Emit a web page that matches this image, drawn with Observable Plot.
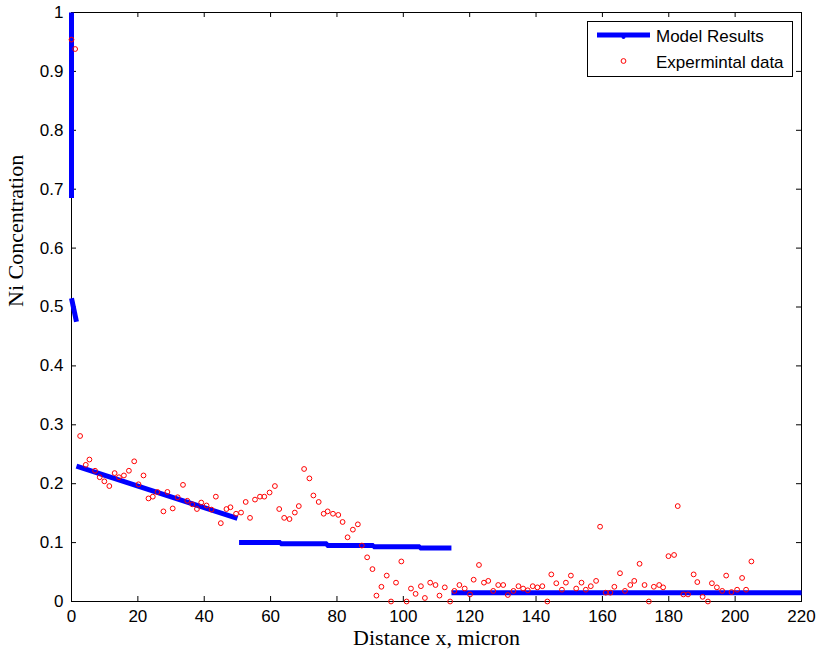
<!DOCTYPE html>
<html>
<head>
<meta charset="utf-8">
<script src="https://cdn.jsdelivr.net/npm/d3@7"></script>
<script src="https://cdn.jsdelivr.net/npm/@observablehq/plot@0.6"></script>
<style>
  html, body { margin: 0; padding: 0; background: #fff; }
  #chart svg { display: block; }
</style>
</head>
<body>
<div id="chart"></div>
<script>
// ---- data ----
const xTicks = [0, 20, 40, 60, 80, 100, 120, 140, 160, 180, 200, 220];
const yTicks = [0, 0.1, 0.2, 0.3, 0.4, 0.5, 0.6, 0.7, 0.8, 0.9, 1];
const yTickLabels = ["0", "0.1", "0.2", "0.3", "0.4", "0.5", "0.6", "0.7", "0.8", "0.9", "1"];

const xLabel = "Distance x, micron";
const yLabel = "Ni Concentration";
const seriesNames = ["Model Results", "Expermintal data"];

// Model results: piecewise segments
const modelSeg = ["A","A","B","B","C","C","D","D","D","D","D","D","D","D","D","D","E","E"];
const modelX = [0, 0, 0, 1.5, 1.5, 50, 50.5, 63, 63, 77, 77, 91, 91, 105, 105, 114.5, 114.5, 220];
const modelY = [1, 0.685, 0.515, 0.475, 0.230, 0.141, 0.100, 0.100, 0.098, 0.098, 0.095, 0.095, 0.093, 0.093, 0.091, 0.091, 0.015, 0.015];

// Experimental data
const expX = [0.0,1.1,2.6,4.3,5.4,7.1,8.5,9.9,11.4,13.0,14.3,15.8,17.3,18.9,20.2,21.7,23.2,24.5,25.9,27.7,28.9,30.5,32.0,33.6,34.9,36.4,37.8,39.1,40.7,42.2,43.5,45.0,46.7,47.9,49.6,51.1,52.5,53.8,55.3,56.8,58.1,59.7,61.3,62.6,64.1,65.7,67.3,68.5,70.1,71.7,72.9,74.5,76.0,77.2,78.8,80.4,81.7,83.2,84.8,86.3,87.5,89.1,90.7,91.9,93.4,95.0,96.3,97.8,99.4,101.0,102.3,103.7,105.3,106.5,108.1,109.7,110.9,112.5,114.1,115.4,116.9,118.5,120.1,121.2,122.8,124.3,125.6,127.1,128.6,130.1,131.5,133.2,134.7,136.1,137.5,139.0,140.4,141.9,143.4,144.6,146.1,147.8,149.0,150.5,152.1,153.7,155.0,156.5,158.1,159.3,161.0,162.4,163.6,165.3,166.8,168.4,169.6,171.2,172.7,174.0,175.5,177.1,178.3,179.9,181.6,182.7,184.4,185.8,187.5,188.6,190.2,191.8,193.0,194.5,196.1,197.3,198.9,200.6,202.1,203.3,204.9];
const expY = [0.954,0.938,0.281,0.232,0.241,0.222,0.211,0.204,0.196,0.218,0.211,0.214,0.222,0.238,0.199,0.214,0.175,0.178,0.186,0.153,0.186,0.158,0.177,0.198,0.171,0.165,0.157,0.168,0.163,0.156,0.178,0.133,0.157,0.160,0.149,0.151,0.169,0.142,0.173,0.178,0.178,0.185,0.196,0.157,0.142,0.140,0.151,0.162,0.225,0.209,0.180,0.169,0.149,0.153,0.149,0.147,0.135,0.109,0.122,0.131,0.095,0.075,0.055,0.010,0.025,0.044,0.000,0.032,0.068,0.000,0.022,0.013,0.026,0.006,0.032,0.028,0.010,0.024,0.000,0.018,0.028,0.022,0.012,0.037,0.062,0.032,0.035,0.018,0.028,0.028,0.011,0.018,0.026,0.022,0.019,0.026,0.024,0.026,0.000,0.046,0.031,0.020,0.032,0.044,0.022,0.032,0.020,0.026,0.035,0.127,0.015,0.015,0.025,0.048,0.018,0.028,0.035,0.064,0.028,0.000,0.025,0.028,0.024,0.077,0.079,0.162,0.012,0.012,0.046,0.033,0.008,0.000,0.031,0.024,0.018,0.044,0.016,0.020,0.040,0.020,0.068];

// ---- build tables ----
const model = modelX.map((x, i) => ({x, y: modelY[i], seg: modelSeg[i]}));
const exp = expX.map((x, i) => ({x, y: expY[i]}));

const W = 817, H = 658;
const mL = 71, mR = 16, mT = 12, mB = 57;
const tickLen = 5;
const xPerPx = 220 / (W - mL - mR);
const yPerPx = 1 / (H - mT - mB);

const sans = "'Liberation Sans', Arial, Helvetica, sans-serif";
const serif = "'Liberation Serif', 'Times New Roman', serif";

const plot = Plot.plot({
  width: W, height: H,
  marginLeft: mL, marginRight: mR, marginTop: mT, marginBottom: mB,
  x: {domain: [0, 220]},
  y: {domain: [0, 1]},
  style: {background: "#fff", fontFamily: sans, fontSize: "17px", color: "#000"},
  marks: [
    Plot.frame({stroke: "#000", strokeWidth: 1}),
    // inward ticks, all four sides
    Plot.ruleX(xTicks, {x: d => d, y1: 0, y2: tickLen * yPerPx, stroke: "#000"}),
    Plot.ruleX(xTicks, {x: d => d, y1: 1, y2: 1 - tickLen * yPerPx, stroke: "#000"}),
    Plot.ruleY(yTicks, {y: d => d, x1: 0, x2: tickLen * xPerPx, stroke: "#000"}),
    Plot.ruleY(yTicks, {y: d => d, x1: 220, x2: 220 - tickLen * xPerPx, stroke: "#000"}),
    Plot.axisX({ticks: xTicks, tickSize: 0, tickPadding: 8, label: null, fontSize: 17, fill: "#000"}),
    Plot.axisY({ticks: yTicks, tickSize: 0, tickPadding: 8, label: null, fontSize: 17, fill: "#000",
      tickFormat: d => yTickLabels[yTicks.indexOf(d)]}),
    Plot.line(model, {x: "x", y: "y", z: "seg", stroke: "#0000ff", strokeWidth: 5, strokeLinecap: "butt", strokeLinejoin: "miter"}),
    Plot.dot(exp, {x: "x", y: "y", r: 2.4, stroke: "#ff0000", strokeWidth: 1, fill: "none"}),
    Plot.text([xLabel], {text: d => d, frameAnchor: "bottom", dy: 43, fontFamily: serif, fontSize: 22, fill: "#000"}),
    Plot.text([yLabel], {text: d => d, frameAnchor: "left", dx: -56, rotate: -90, fontFamily: serif, fontSize: 22, fill: "#000"})
  ]
});

// ---- legend (MATLAB style box, top-right inside axes) ----
const svg = d3.select(plot);
const lg = svg.append("g").attr("font-family", sans).attr("font-size", 17).attr("text-anchor", "start");
lg.append("rect").attr("x", 587.5).attr("y", 21.5).attr("width", 205).attr("height", 55)
  .attr("fill", "#fff").attr("stroke", "#000").attr("stroke-width", 1);
lg.append("line").attr("x1", 597).attr("x2", 650).attr("y1", 35).attr("y2", 35)
  .attr("stroke", "#0000ff").attr("stroke-width", 5);
lg.append("circle").attr("cx", 623.5).attr("cy", 37).attr("r", 2).attr("fill", "#0000ff");
lg.append("circle").attr("cx", 623.5).attr("cy", 61).attr("r", 2.4)
  .attr("fill", "none").attr("stroke", "#ff0000");
lg.append("text").attr("x", 656).attr("y", 36).attr("dy", "0.35em").attr("text-anchor", "start").attr("fill", "#000").text(seriesNames[0]);
lg.append("text").attr("x", 656).attr("y", 62).attr("dy", "0.35em").attr("text-anchor", "start").attr("fill", "#000").text(seriesNames[1]);

document.getElementById("chart").appendChild(plot);
</script>
</body>
</html>
